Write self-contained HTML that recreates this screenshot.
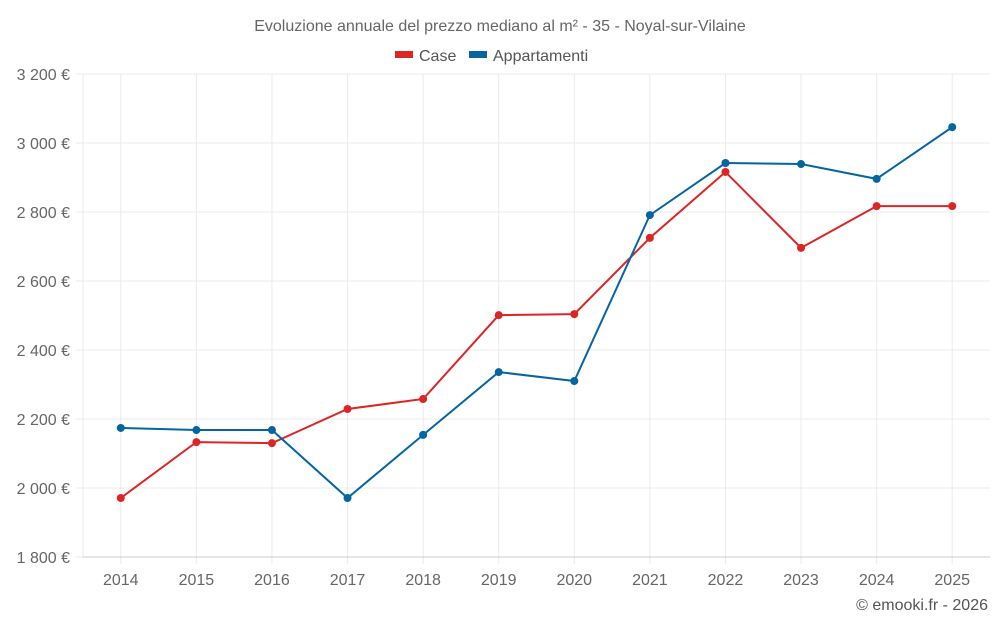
<!DOCTYPE html>
<html><head><meta charset="utf-8"><style>
body{margin:0;background:#fff;font-family:"Liberation Sans",sans-serif}
</style></head><body>
<svg id="chart" width="1000" height="625" xmlns="http://www.w3.org/2000/svg" font-family="Liberation Sans, sans-serif">
<text x="500" y="31" text-anchor="middle" font-size="16" fill="#666">Evoluzione annuale del prezzo mediano al m² - 35 - Noyal-sur-Vilaine</text>
<g>
<g><rect x="395" y="51" width="18" height="7" fill="#dc2626"/><text x="419" y="61" font-size="16" fill="#555">Case</text></g>
<g><rect x="469" y="51" width="18" height="7" fill="#0565a0"/><text x="493" y="61" font-size="16" fill="#555">Appartamenti</text></g>
</g>
<g id="grid"></g>
<g id="axes"></g>
<g id="series"></g>
<text x="988" y="610" text-anchor="end" font-size="16" fill="#555">© emooki.fr - 2026</text>
</svg>
<script>
const years=[2014,2015,2016,2017,2018,2019,2020,2021,2022,2023,2024,2025];
const caseVals=[1971,2133,2130,2229,2258,2501,2504,2725,2916,2696,2817,2817];
const apptVals=[2174,2168,2168,1971,2154,2336,2310,2791,2942,2939,2896,3046];
const yTicks=[1800,2000,2200,2400,2600,2800,3000,3200];
const NS="http://www.w3.org/2000/svg";
const L=83,R=990,T=74,B=557,yMin=1800,yMax=3200;
const step=(R-L)/years.length;
const x=i=>L+(i+0.5)*step;
const y=v=>B-(v-yMin)/(yMax-yMin)*(B-T);
function mk(tag,attrs,parent){const e=document.createElementNS(NS,tag);for(const k in attrs)e.setAttribute(k,attrs[k]);parent.appendChild(e);return e;}
const grid=document.getElementById('grid'),axes=document.getElementById('axes'),ser=document.getElementById('series');
yTicks.forEach(v=>{
 const g=mk('line',{x1:76,x2:R,y1:y(v),y2:y(v),stroke:'#ebebeb'},grid);
 
 
 const t=mk('text',{x:70,y:y(v)+6,'text-anchor':'end','font-size':16,fill:'#666'},axes);
 t.textContent=String(v).replace(/\B(?=(\d{3})+$)/,' ')+' €';
 
 
});
mk('line',{x1:L,x2:L,y1:T,y2:B,stroke:'#ebebeb'},grid);
years.forEach((yr,i)=>{
 const g=mk('line',{x1:x(i),x2:x(i),y1:T,y2:B+7,stroke:'#ebebeb'},grid);
 
 
 const t=mk('text',{x:x(i),y:585,'text-anchor':'middle','font-size':16,fill:'#666'},axes);
 t.textContent=yr;
 
 
});
const xa=mk('line',{x1:L,x2:R,y1:B,y2:B,stroke:'#ccc'},axes);


function draw(vals,color,name){
 const p=mk('polyline',{points:vals.map((v,i)=>x(i)+','+y(v)).join(' '),fill:'none',stroke:color,'stroke-width':2},ser);
 
 
 vals.forEach((v,i)=>{
  const c=mk('circle',{cx:x(i),cy:y(v),r:4,fill:color},ser);
  
  
 });
}
draw(caseVals,'#dc2626','case');
draw(apptVals,'#0565a0','appartamenti');
</script>
</body></html>
